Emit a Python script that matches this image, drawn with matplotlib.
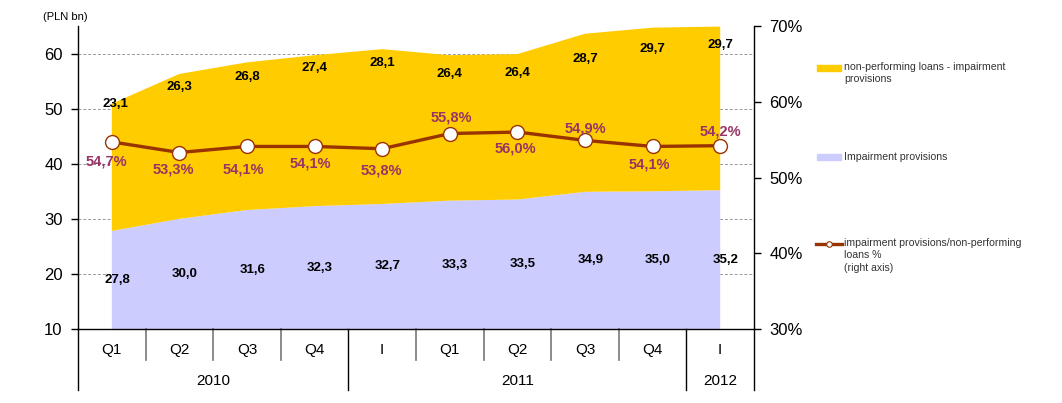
import numpy as np
import matplotlib
matplotlib.use("Agg")
import matplotlib.pyplot as plt
from matplotlib.patches import Rectangle
from matplotlib.lines import Line2D
import matplotlib.transforms as mtransforms

plt.rcParams['font.family'] = ['Liberation Sans', 'DejaVu Sans']

# data (PLN bn, ratio in %)
quarters = ["Q1", "Q2", "Q3", "Q4", "I", "Q1", "Q2", "Q3", "Q4", "I"]
years = ["2010", "2011", "2012"]
year_spans = [(0, 3), (4, 8), (9, 9)]
provisions = [27.8, 30.0, 31.6, 32.3, 32.7, 33.3, 33.5, 34.9, 35.0, 35.2]
npl_net = [23.1, 26.3, 26.8, 27.4, 28.1, 26.4, 26.4, 28.7, 29.7, 29.7]
coverage = [54.7, 53.3, 54.1, 54.1, 53.8, 55.8, 56.0, 54.9, 54.1, 54.2]

# label offsets in pixels (dx, dy), screen y up
npl_off = [(4, 0), (0, -13), (0, -15), (0, -13), (0, -14),
           (0, -19), (0, -19), (0, -25), (0, -21), (0, -18)]
cov_off = [(-5, -20), (-6, -17), (-4, -23), (-4, -17), (-1, -22),
           (2, 16), (-2, -16), (0, 12), (-3, -18), (0, 14)]

YELLOW = "#FFCC00"
LILAC = "#CCCCFF"
BROWN = "#993300"
PLUM = "#993366"

W, H = 1062, 403
fig = plt.figure(figsize=(W / 100, H / 100), dpi=100)
x0, x1, y0, y1 = 78, 754, 329, 26
ax = fig.add_axes([x0 / W, 1 - y0 / H, (x1 - x0) / W, (y0 - y1) / H])

x = np.arange(len(quarters))
ax.stackplot(x, provisions, npl_net, colors=[LILAC, YELLOW], linewidth=0)
ax.set_xlim(-0.5, len(quarters) - 0.5)
ax.set_ylim(10, 65)
ax.set_yticks([10, 20, 30, 40, 50, 60])
ax.set_axisbelow(True)
ax.yaxis.grid(True, color="#999999", ls=(0, (3, 2)), lw=0.7)
ax.tick_params(axis="y", labelsize=12, length=5, width=1, pad=6)
ax.set_xticks([])
for s in ["top", "right"]:
    ax.spines[s].set_visible(False)
ax.spines["left"].set_linewidth(1)
ax.spines["bottom"].set_linewidth(1)

ax2 = ax.twinx()
ax2.set_ylim(30, 70)
ax2.set_yticks([30, 40, 50, 60, 70])
ax2.set_yticklabels([f"{v}%" for v in [30, 40, 50, 60, 70]])
ax2.tick_params(axis="y", labelsize=12, length=5, width=1, pad=6)
for s in ["top", "left", "bottom"]:
    ax2.spines[s].set_visible(False)
ax2.spines["right"].set_linewidth(1)
ax2.set_xlim(ax.get_xlim())

ax2.plot(x, coverage, color=BROWN, lw=2.4, marker="o", ms=10,
         mfc="white", mec=BROWN, mew=1, zorder=5)

px = 72 / 100  # pixels -> points
top = np.array(provisions) + np.array(npl_net)
for i in range(len(x)):
    dx, dy = npl_off[i]
    ax.annotate(f"{npl_net[i]:.1f}".replace(".", ","), (x[i], top[i]),
                xytext=(dx * px, dy * px), textcoords="offset points",
                ha="center", va="center", fontsize=9.5, fontweight="bold")
    ax.text(x[i] + 0.08, (10 + provisions[i]) / 2,
            f"{provisions[i]:.1f}".replace(".", ","),
            ha="center", va="center", fontsize=9.5, fontweight="bold")
    dx, dy = cov_off[i]
    ax2.annotate(f"{coverage[i]:.1f}%".replace(".", ","), (x[i], coverage[i]),
                 xytext=(dx * px, dy * px), textcoords="offset points",
                 ha="center", va="center", fontsize=10.5, fontweight="bold",
                 color=PLUM, zorder=6)

# category axis below the plot
tr = mtransforms.blended_transform_factory(ax.transData, ax.transAxes)
ph = y0 - y1
short = -31 / ph
long_ = -61 / ph
for i in range(1, len(x)):
    if any(i == a for a, b in year_spans):
        continue
    ax.plot([i - 0.5, i - 0.5], [0, short], transform=tr, color="#777777",
            lw=1.2, clip_on=False)
for a, b in year_spans:
    ax.plot([a - 0.5, a - 0.5], [0, long_], transform=tr, color="black",
            lw=1, clip_on=False)
ax.plot([len(x) - 0.5] * 2, [0, long_], transform=tr, color="black",
        lw=1, clip_on=False)
for i, q in enumerate(quarters):
    ax.text(i, -21 / ph, q, transform=tr, ha="center", va="center", fontsize=11)
for yr, (a, b) in zip(years, year_spans):
    ax.text((a + b) / 2, -52 / ph, yr, transform=tr, ha="center",
            va="center", fontsize=11)

fig.text(65 / W, 1 - 17 / H, "(PLN bn)", ha="center", va="center", fontsize=8)

# legend
leg_col = "#333333"
fig.patches.append(Rectangle((817 / W, 1 - 71 / H), 24 / W, 6 / H,
                             transform=fig.transFigure, color=YELLOW))
fig.text(844 / W, 1 - 62 / H, "non-performing loans - impairment\nprovisions",
         ha="left", va="top", fontsize=7.6, color=leg_col, linespacing=1.3)
fig.patches.append(Rectangle((817 / W, 1 - 160 / H), 24 / W, 6 / H,
                             transform=fig.transFigure, color=LILAC))
fig.text(844 / W, 1 - 157 / H, "Impairment provisions",
         ha="left", va="center", fontsize=7.6, color=leg_col)
fig.lines.append(Line2D([816 / W, 842 / W], [1 - 244 / H] * 2,
                        transform=fig.transFigure, color=BROWN, lw=2.4))
fig.lines.append(Line2D([829 / W], [1 - 244 / H], transform=fig.transFigure,
                        marker="o", ms=4, mfc="white", mec=BROWN, mew=0.8,
                        ls="none"))
fig.text(844 / W, 1 - 238 / H,
         "impairment provisions/non-performing\nloans %\n(right axis)",
         ha="left", va="top", fontsize=7.6, color=leg_col, linespacing=1.3)

fig.savefig("out.png", dpi=100)
